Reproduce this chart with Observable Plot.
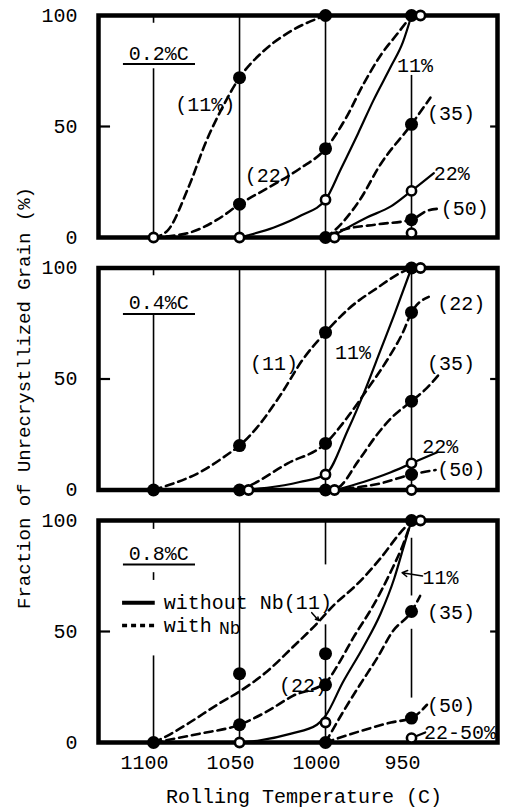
<!DOCTYPE html>
<html>
<head>
<meta charset="utf-8">
<script src="https://cdn.jsdelivr.net/npm/d3@7"></script>
<script src="https://cdn.jsdelivr.net/npm/@observablehq/plot@0.6"></script>
<style>
  html, body { margin: 0; padding: 0; background: #fff; }
  #chart { width: 506px; height: 811px; }
</style>
</head>
<body>
<div id="chart"></div>
<script>
// ---------- data ----------
const panels = ["0.2%C", "0.4%C", "0.8%C"];
const xTicks = [1100, 1050, 1000, 950];
const xTickLabels = ["1100", "1o50", "1000", "950"];
const yTicks = [0, 50, 100];
const yTitle = "Fraction of Unrecrystllized Grain (%)";
const xTitle = "Rolling Temperature (C)";

// measured points: [panel, temperature, fraction]
const withNbDots = [
  ["0.2%C", 1050, 72], ["0.2%C", 1000, 100], ["0.2%C", 1050, 15], ["0.2%C", 1000, 40],
  ["0.2%C", 950, 100], ["0.2%C", 950, 51], ["0.2%C", 950, 8], ["0.2%C", 1000, 0],
  ["0.4%C", 1100, 0], ["0.4%C", 1050, 20], ["0.4%C", 1000, 71], ["0.4%C", 950, 100],
  ["0.4%C", 1000, 21], ["0.4%C", 950, 80], ["0.4%C", 950, 40], ["0.4%C", 950, 7],
  ["0.4%C", 1050, 0], ["0.4%C", 1000, 0],
  ["0.8%C", 1100, 0], ["0.8%C", 1050, 31], ["0.8%C", 1050, 8], ["0.8%C", 1000, 40],
  ["0.8%C", 1000, 26], ["0.8%C", 1000, 0], ["0.8%C", 950, 100], ["0.8%C", 950, 59],
  ["0.8%C", 950, 11]
];
const withoutNbDots = [
  ["0.2%C", 1100, 0], ["0.2%C", 1050, 0], ["0.2%C", 1000, 17], ["0.2%C", 1000, 0],
  ["0.2%C", 950, 100], ["0.2%C", 950, 21], ["0.2%C", 950, 2],
  ["0.4%C", 1050, 0], ["0.4%C", 1000, 7], ["0.4%C", 1000, 0], ["0.4%C", 950, 100],
  ["0.4%C", 950, 12], ["0.4%C", 950, 0],
  ["0.8%C", 1050, 0], ["0.8%C", 1000, 9], ["0.8%C", 950, 100], ["0.8%C", 950, 2]
];

// fitted curves: [panel, reduction, points]
const withNbCurves = [
  ["0.2%C", "11", [[1100,0],[1092,3],[1080,22],[1069,44],[1061,57],[1050,72],[1036,84],[1020,93],[1000,100]]],
  ["0.2%C", "22", [[1100,0],[1080,2],[1063,8],[1050,15],[1032,23],[1015,31],[1000,40],[988,54],[978,69],[968,82],[958,92],[950,100]]],
  ["0.2%C", "35", [[1000,0],[995,3],[980,17],[968,33],[950,51],[939,63]]],
  ["0.2%C", "50", [[997,0],[992,3],[969,6],[950,8],[941,12],[934,13]]],
  ["0.4%C", "11", [[1100,0],[1092,2],[1073,8],[1057,16],[1050,20],[1040,28],[1026,43],[1013,59],[1000,71],[986,82],[970,91],[956,98],[950,100]]],
  ["0.4%C", "22", [[1050,0],[1044,2],[1022,12],[1000,21],[988,32],[976,45],[963,60],[955,71],[950,80],[940,87]]],
  ["0.4%C", "35", [[1000,0],[993,1],[981,13],[970,25],[961,33],[950,40],[941,46],[933,53]]],
  ["0.4%C", "50", [[996,0],[989,0.5],[968,3],[950,7],[936,9]]],
  ["0.8%C", "11", [[1100,0],[1092,3],[1080,8.5],[1063,17],[1050,23],[1034,32],[1019,43],[1007,52],[995,62],[982,71],[968,83],[956,95],[950,100]]],
  ["0.8%C", "22", [[1100,0],[1073,4],[1050,8],[1034,14],[1019,21],[1000,27],[992,36],[984,47],[972,62],[962,77],[955,89],[950,100]]],
  ["0.8%C", "35", [[1000,0],[990,13.5],[980,26],[970,38],[961,50],[950,59],[945,66]]],
  ["0.8%C", "50", [[1000,0],[976,6],[962,9],[950,11],[941,17]]]
];
const withoutNbCurves = [
  ["0.2%C", "11", [[1050,0],[1045,1],[1030,4.5],[1014,10],[1000,17],[991,31],[981,47],[972,62],[962,77],[955,88],[950,100]]],
  ["0.2%C", "22", [[995,1],[976,9],[962,14],[950,21],[937,29]]],
  ["0.4%C", "11", [[1050,0],[1034,1],[1015,3.6],[1000,7],[987,27],[977,45],[968,63],[960,79],[950,100]]],
  ["0.4%C", "22", [[994,0],[978,3.6],[962,8],[950,12],[935,17]]],
  ["0.8%C", "11", [[1050,0],[1038,1],[1020,4],[1005,8],[1000,12],[990,27],[978,43],[968,58],[960,74],[955,87],[950,100]]],
  ["0.8%C", "22-50", [[950,2],[942,4.5]]]
];

// thin vertical guide lines: [panel, temperature, from, to]
const guideLines = [
  ["0.2%C", 1100, 100, 96.5], ["0.2%C", 1100, 76, 0], ["0.2%C", 1050, 100, 0],
  ["0.2%C", 1000, 100, 0], ["0.2%C", 950, 73, 0],
  ["0.4%C", 1100, 100, 96.5], ["0.4%C", 1100, 79, 0], ["0.4%C", 1050, 100, 20],
  ["0.4%C", 1000, 100, 0], ["0.4%C", 950, 100, 0],
  ["0.8%C", 1100, 100, 96], ["0.8%C", 1100, 76.5, 73], ["0.8%C", 1100, 39, 0],
  ["0.8%C", 1050, 100, 0], ["0.8%C", 1000, 100, 80], ["0.8%C", 1000, 53, 0],
  ["0.8%C", 950, 92, 66], ["0.8%C", 950, 51, 20]
];
// inner ticks at 50 %: [from, to, value]
const innerTicks = [[1132, 1125, 50], [904, 900, 50]];

// panel titles: [panel, t, v, underline v, underline from, underline to]
const panelTitles = [
  ["0.2%C", 1097, 83, 78.2, 1117.5, 1075.6],
  ["0.4%C", 1097, 84.2, 79.3, 1117.5, 1075.6],
  ["0.8%C", 1097, 85.1, 80.2, 1117.5, 1075.6]
];
// curve annotations: [panel, text, t, v, anchor]
const curveLabels = [
  ["0.2%C", "(11%)", 1070, 60, "middle"], ["0.2%C", "(22)", 1033, 28, "middle"],
  ["0.2%C", "11%", 948, 77.5, "middle"], ["0.2%C", "(35)", 941, 56, "start"],
  ["0.2%C", "22%", 937, 29, "start"], ["0.2%C", "(50)", 933, 13, "start"],
  ["0.4%C", "(11)", 1030, 57, "middle"], ["0.4%C", "11%", 984, 62, "middle"],
  ["0.4%C", "(22)", 935, 84, "start"], ["0.4%C", "(35)", 941, 57, "start"],
  ["0.4%C", "22%", 943.8, 19.5, "start"], ["0.4%C", "(50)", 935, 9, "start"],
  ["0.8%C", "(22)", 1027, 25.7, "start"], ["0.8%C", "11%", 943.6, 74.5, "start"],
  ["0.8%C", "(35)", 941, 58.7, "start"], ["0.8%C", "(50)", 941, 16.7, "start"],
  ["0.8%C", "22-50%", 942.8, 4.6, "start"]
];
const curveArrows = [
  ["0.8%C", 943.6, 75, 955.5, 76.5],
  ["0.8%C", 1008, 58.5, 1004, 55]
];
// legend (drawn inside the 0.8%C panel)
const legendPanel = "0.8%C";
const legendItems = [
  ["without Nb(11)", "solid", 63],
  ["with", "dashed", 52.7]
];
const legendSample = [1118, 1099];
const legendTextT = 1094;
const legendNb = ["Nb", 1062, 51.5];

// ---------- build rows ----------
const dotRows = a => a.map(([panel, t, v]) => ({panel, t, v}));
const curveRows = a => a.flatMap(([panel, red, pts]) => pts.map(([t, v]) => ({panel, id: panel + red, t, v})));
const filledRows = dotRows(withNbDots);
const filledKeys = new Set(filledRows.map(d => `${d.panel}|${d.t}|${d.v}`));
const openRows = dotRows(withoutNbDots);
const openPlain = openRows.filter(d => !filledKeys.has(`${d.panel}|${d.t}|${d.v}`));
const openShifted = openRows.filter(d => filledKeys.has(`${d.panel}|${d.t}|${d.v}`));

const FONT = "'Liberation Mono', 'DejaVu Sans Mono', monospace";

const plot = Plot.plot({
  width: 506,
  height: 811,
  marginTop: 15,
  marginBottom: 69,
  marginLeft: 98,
  marginRight: 9,
  style: {fontFamily: FONT, fontSize: "20px", color: "black", background: "white", overflow: "visible"},
  x: {domain: [1132, 900], axis: null},
  y: {domain: [0, 100], ticks: yTicks, tickSize: 0, tickPadding: 21, label: null},
  fy: {domain: panels, axis: null, paddingInner: 30.5 / 252.5, paddingOuter: 0, round: false},
  marks: [
    Plot.ruleX(guideLines.map(([panel, t, v1, v2]) => ({panel, t, v1, v2})),
      {x: "t", y1: "v1", y2: "v2", fy: "panel", stroke: "black", strokeWidth: 1.6}),
    Plot.ruleY(innerTicks.map(([t1, t2, v]) => ({t1, t2, v})),
      {y: "v", x1: "t1", x2: "t2", stroke: "black", strokeWidth: 2.2}),
    Plot.ruleY(panelTitles.map(([panel, t, v, u, a, b]) => ({panel, u, a, b})),
      {y: "u", x1: "a", x2: "b", fy: "panel", stroke: "black", strokeWidth: 2}),
    Plot.text(panelTitles.map(([panel, t, v]) => ({panel, t, v})),
      {x: "t", y: "v", text: "panel", fy: "panel", fontSize: 20, fill: "black"}),
    Plot.line(curveRows(withNbCurves),
      {x: "t", y: "v", z: "id", fy: "panel", curve: "monotone-x", stroke: "black", strokeWidth: 2.6, strokeDasharray: "8,5"}),
    Plot.line(curveRows(withoutNbCurves),
      {x: "t", y: "v", z: "id", fy: "panel", curve: "monotone-x", stroke: "black", strokeWidth: 2.2}),
    Plot.frame({stroke: "black", strokeWidth: 4.5}),
    Plot.dot(filledRows, {x: "t", y: "v", fy: "panel", r: 6.5, fill: "black", stroke: "none"}),
    Plot.dot(openPlain, {x: "t", y: "v", fy: "panel", r: 4.6, fill: "white", stroke: "black", strokeWidth: 2.6}),
    Plot.dot(openShifted, {x: "t", y: "v", fy: "panel", r: 4.6, dx: 9, fill: "white", stroke: "black", strokeWidth: 2.6}),
    Plot.text(curveLabels.filter(d => d[4] === "middle").map(([panel, text, t, v]) => ({panel, text, t, v})),
      {x: "t", y: "v", text: "text", fy: "panel", textAnchor: "middle", fontSize: 20, fill: "black"}),
    Plot.text(curveLabels.filter(d => d[4] === "start").map(([panel, text, t, v]) => ({panel, text, t, v})),
      {x: "t", y: "v", text: "text", fy: "panel", textAnchor: "start", fontSize: 20, fill: "black"}),
    Plot.arrow(curveArrows.map(([panel, t1, v1, t2, v2]) => ({panel, t1, v1, t2, v2})),
      {x1: "t1", y1: "v1", x2: "t2", y2: "v2", fy: "panel", stroke: "black", strokeWidth: 1.5, headLength: 6}),
    // legend
    Plot.ruleY(legendItems.filter(d => d[1] === "solid").map(([label, kind, v]) => ({panel: legendPanel, v})),
      {y: "v", x1: () => legendSample[0], x2: () => legendSample[1], fy: "panel", stroke: "black", strokeWidth: 4}),
    Plot.ruleY(legendItems.filter(d => d[1] === "dashed").map(([label, kind, v]) => ({panel: legendPanel, v})),
      {y: "v", x1: () => legendSample[0], x2: () => legendSample[1], fy: "panel", stroke: "black", strokeWidth: 3.5, strokeDasharray: "5,4"}),
    Plot.text(legendItems.map(([label, kind, v]) => ({panel: legendPanel, label, v})),
      {x: () => legendTextT, y: "v", text: "label", fy: "panel", textAnchor: "start", fontSize: 20, fill: "black"}),
    Plot.text([{panel: legendPanel, label: legendNb[0], t: legendNb[1], v: legendNb[2]}],
      {x: "t", y: "v", text: "label", fy: "panel", textAnchor: "start", fontSize: 18, fill: "black"}),
    // x tick labels below the last panel
    Plot.text(xTicks.map((t, i) => ({panel: panels[panels.length - 1], t, label: xTickLabels[i]})),
      {x: "t", text: "label", fy: "panel", frameAnchor: "bottom", dy: 26, dx: -9, fontSize: 20, fill: "black"})
  ]
});

const svg = d3.select(plot);
svg.append("text")
  .attr("transform", "translate(25,398) rotate(-90)")
  .attr("text-anchor", "middle")
  .attr("dominant-baseline", "middle")
  .attr("font-family", FONT)
  .attr("font-size", 19)
  .attr("fill", "black")
  .text(yTitle);
svg.append("text")
  .attr("x", 304)
  .attr("y", 798)
  .attr("text-anchor", "middle")
  .attr("dominant-baseline", "middle")
  .attr("font-family", FONT)
  .attr("font-size", 20)
  .attr("fill", "black")
  .text(xTitle);

document.getElementById("chart").appendChild(plot);
</script>
</body>
</html>
